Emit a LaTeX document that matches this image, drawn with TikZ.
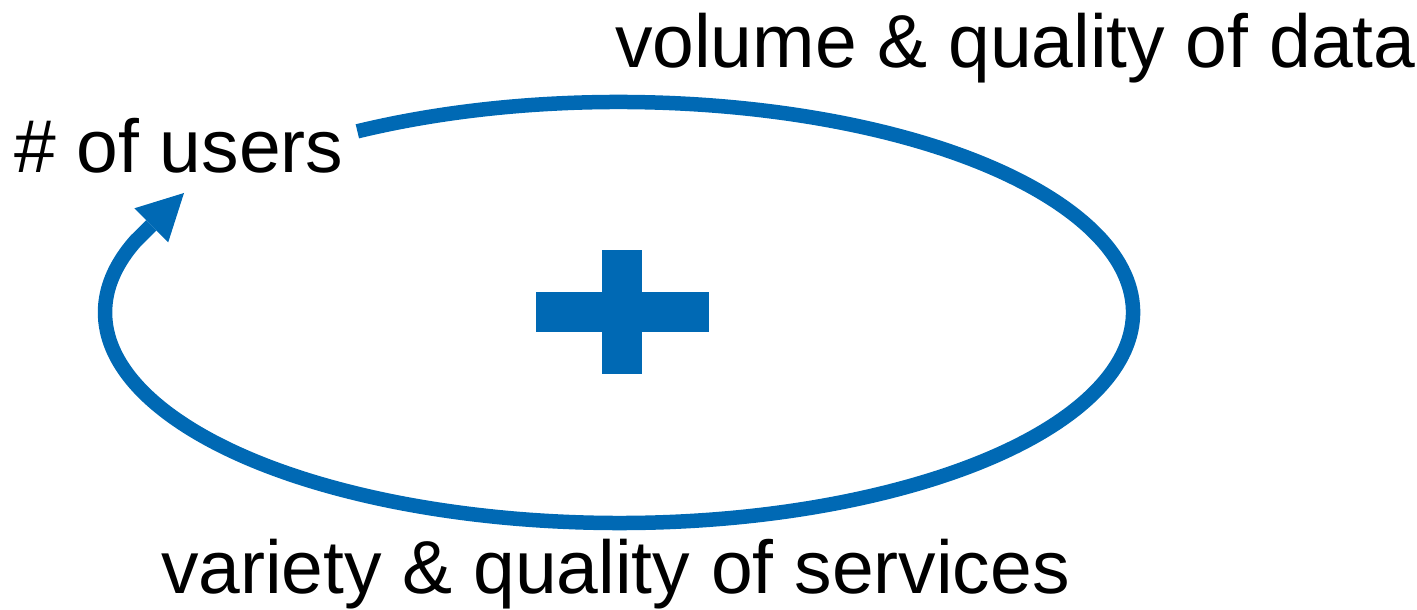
\documentclass[tikz,border=0pt]{standalone}
\usepackage{fontspec}
\setmainfont{Liberation Sans}
\usetikzlibrary{arrows.meta}
\definecolor{loopblue}{RGB}{0,105,180}
\begin{document}
\begin{tikzpicture}[x=1pt,y=1pt,
  label/.style={anchor=base west, inner sep=0pt, outer sep=0pt,
                font=\fontsize{75}{75}\selectfont},
  loopline/.style={draw=loopblue, line width=14.5pt, line cap=butt,
                   -{Triangle[length=46pt,width=48pt,line width=0pt]}}]
  \useasboundingbox (0,0) rectangle (1417,610);

  % texts
  \node[label] (users)    at (14,437) {\# of users};
  \node[label] (data)     at (615,542) {volume \& quality of data};
  \node[label] (services) at (161,16) {variety \& quality of services};

  % reinforcing loop
  \coordinate (c)   at (619,297.5);
  \coordinate (tip) at (184,417);
  \draw[loopline] (c) ++(120.6:514pt and 210.5pt)
    arc[start angle=120.6, end angle=-200, x radius=514pt, y radius=210.5pt]
    -- (tip);

  % plus sign in the middle
  \fill[loopblue] (536,278) rectangle (709,318);
  \fill[loopblue] (602.3,235.7) rectangle (642.3,360);
\end{tikzpicture}
\end{document}
